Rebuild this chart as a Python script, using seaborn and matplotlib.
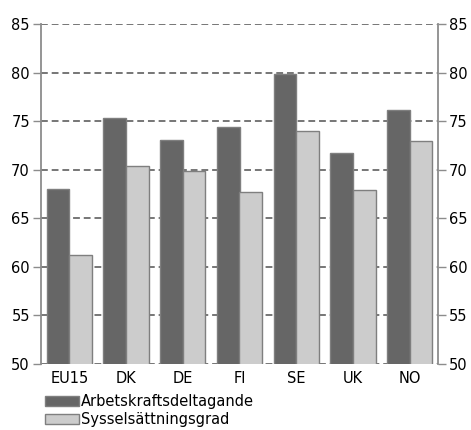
import matplotlib
matplotlib.use("Agg")
import matplotlib.pyplot as plt
import seaborn as sns
import pandas as pd

# data (percent)
countries = ["EU15", "DK", "DE", "FI", "SE", "UK", "NO"]
deltagande = [68.0, 75.3, 73.1, 74.4, 79.9, 71.7, 76.1]
syssels = [61.2, 70.4, 69.9, 67.7, 74.0, 67.9, 73.0]
series = ["Arbetskraftsdeltagande", "Sysselsättningsgrad"]

df = pd.DataFrame({
    "land": countries * 2,
    "varde": deltagande + syssels,
    "serie": [series[0]] * len(countries) + [series[1]] * len(countries),
})

sns.set_style("white")
plt.rcParams["font.family"] = ["DejaVu Sans"]
plt.rcParams["text.color"] = "black"
plt.rcParams["xtick.labelcolor"] = "black"
plt.rcParams["ytick.labelcolor"] = "black"

fig = plt.figure(figsize=(4.71, 4.30), dpi=100)
ax = fig.add_axes([41 / 471, 1 - 364 / 430, 397 / 471, 340 / 430])

sns.barplot(data=df, x="land", y="varde", hue="serie", order=countries,
            hue_order=series, palette=["#666666", "#cccccc"],
            edgecolor="#7f7f7f", linewidth=1, width=0.8, ax=ax, zorder=3)

ax.set_ylim(50, 85)
ax.set_xlim(-0.5, len(countries) - 0.5)
ax.set_yticks(range(50, 90, 5))
ax.set_xlabel("")
ax.set_ylabel("")

# dashed grid
ax.yaxis.grid(True, color="#767676", linestyle=(0, (3.5, 2)), linewidth=1.4, zorder=0)
ax.set_axisbelow(True)

for s in ["top", "bottom"]:
    ax.spines[s].set_visible(False)
for s in ["left", "right"]:
    ax.spines[s].set_color("#8c8c8c")
    ax.spines[s].set_linewidth(1.3)

ax.tick_params(axis="y", which="both", left=True, right=True, labelleft=True,
               labelright=True, length=6, width=1, color="#8c8c8c",
               labelsize=10.5, pad=2, direction="out")
ax.tick_params(axis="x", which="major", length=0, labelsize=10.5, pad=5)
ax.set_xticks([i + 0.5 for i in range(len(countries) - 1)], minor=True)
ax.tick_params(axis="x", which="minor", length=6, width=1, color="#404040",
               direction="out")

handles, labels = ax.get_legend_handles_labels()
ax.legend_.remove()
fig.legend(handles, labels, loc="upper left", bbox_to_anchor=(45 / 471, 1 - 394 / 430),
           frameon=False, fontsize=10.5, handlelength=2.3, handleheight=0.7,
           handletextpad=0.15, labelspacing=0.22, borderaxespad=0, borderpad=0)

fig.savefig("out.png", dpi=100)
